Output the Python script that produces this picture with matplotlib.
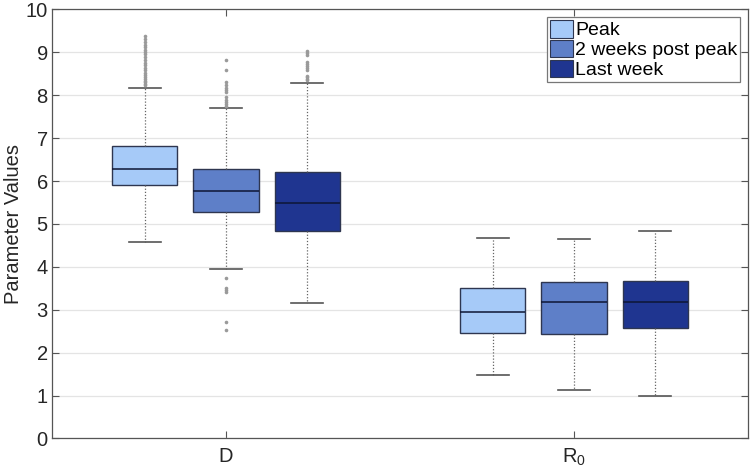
import matplotlib
matplotlib.use("Agg")
import matplotlib.pyplot as plt
from matplotlib.patches import Patch

plt.rcParams['font.family'] = ['Liberation Sans', 'DejaVu Sans']
plt.rcParams['mathtext.fontset'] = 'custom'
plt.rcParams['mathtext.rm'] = 'Liberation Sans'
plt.rcParams['mathtext.it'] = 'Liberation Sans'

# ---------- data ----------
params = ["D", r"R$_0$"]
series = ["Peak", "2 weeks post peak", "Last week"]
colors = ["#a6caf8", "#5e7fc8", "#1f3590"]

# per parameter, per series: [whislo, q1, med, q3, whishi]
d_stats = [
    [4.57, 5.90, 6.27, 6.82, 8.18],
    [3.96, 5.27, 5.76, 6.27, 7.71],
    [3.15, 4.84, 5.48, 6.22, 8.29],
]
r0_stats = [
    [1.49, 2.47, 2.94, 3.50, 4.68],
    [1.13, 2.43, 3.19, 3.64, 4.66],
    [0.98, 2.58, 3.19, 3.67, 4.83],
]
d_fliers = [
    [8.24, 8.27, 8.30, 8.33, 8.37, 8.42, 8.47, 8.52, 8.58, 8.63, 8.70, 8.76,
     8.82, 8.88, 8.95, 9.00, 9.06, 9.12, 9.18, 9.25, 9.30, 9.38],
    [7.76, 7.80, 7.85, 7.90, 7.96, 8.08, 8.13, 8.18, 8.24, 8.30, 8.60, 8.83,
     3.73, 3.50, 3.45, 3.42, 2.72, 2.53],
    [8.35, 8.38, 8.42, 8.46, 8.58, 8.63, 8.68, 8.73, 8.77, 8.93, 8.98, 9.04],
]
r0_fliers = [[], [], []]

fig = plt.figure(figsize=(7.5, 4.72), dpi=100)
ax = fig.add_axes([0.0693, 0.071, 0.928, 0.909])

offsets = [-0.233, 0.0, 0.233]
box_w = 0.187
edge = "#2e3650"

for gi, (stats, fliers) in enumerate([(d_stats, d_fliers), (r0_stats, r0_fliers)]):
    for si in range(3):
        lo, q1, med, q3, hi = stats[si]
        st = dict(whislo=lo, q1=q1, med=med, q3=q3, whishi=hi, fliers=fliers[si])
        ax.bxp([st], positions=[gi + 1 + offsets[si]], widths=box_w,
               capwidths=0.092, patch_artist=True, showfliers=True,
               boxprops=dict(facecolor=colors[si], edgecolor=edge, linewidth=1.0),
               medianprops=dict(color="#0e1635", linewidth=1.1),
               whiskerprops=dict(color="#666666", linestyle=(0, (1, 1.5)), linewidth=0.9),
               capprops=dict(color="#555555", linewidth=1.2),
               flierprops=dict(marker="o", markersize=2.6, markerfacecolor="#9a9a9a",
                               markeredgecolor="none"))

ax.set_xlim(0.5, 2.5)
ax.set_ylim(0, 10)
ax.set_xticks([1, 2])
ax.set_xticklabels(params)
ax.set_yticks(range(0, 11))
ax.set_ylabel("Parameter Values", fontsize=14.5, color="#262626", labelpad=2)

ax.yaxis.grid(True, color="#e4e4e4", linewidth=0.9)
ax.set_axisbelow(True)
for sp in ax.spines.values():
    sp.set_color("#555555")
    sp.set_linewidth(0.9)
ax.tick_params(direction="in", length=5, width=0.8, color="#555555",
               labelsize=14.5, labelcolor="#262626", top=True, right=True)
ax.tick_params(axis="x", pad=6)
ax.tick_params(axis="y", pad=3)

handles = [Patch(facecolor=c, edgecolor="#2e3650", linewidth=0.8) for c in colors]
leg = ax.legend(handles, series, loc="upper right", fontsize=14, fancybox=False,
                framealpha=1, edgecolor="#777777", borderpad=0.15, labelspacing=0.02,
                handlelength=1.2, handleheight=1.0, handletextpad=0.1,
                borderaxespad=0.4)
leg.get_frame().set_linewidth(0.9)

fig.savefig("out.png", dpi=100)
